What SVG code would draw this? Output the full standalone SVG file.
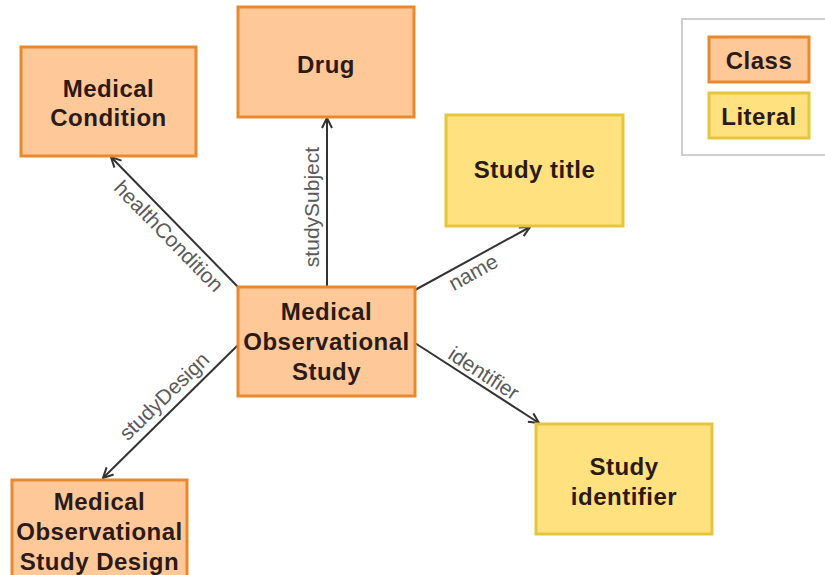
<svg xmlns="http://www.w3.org/2000/svg" width="825" height="575" viewBox="0 0 825 575">
<defs>
<style>
.cls{fill:#FFC899;stroke:#E8892E;stroke-width:3}
.lit{fill:#FFE27F;stroke:#E5C63A;stroke-width:3}
.nt{font-family:"Liberation Sans",Arial,sans-serif;font-weight:bold;font-size:24px;letter-spacing:0.5px;fill:#2b1a16;text-anchor:middle}
.edge{stroke:#333;stroke-width:2;fill:none;marker-end:url(#arr)}
.el{font-family:"Liberation Sans",Arial,sans-serif;font-size:21px;fill:#5a5a5a;text-anchor:middle;dominant-baseline:central}
</style>
<marker id="arr" viewBox="0 0 12 12" refX="11" refY="6" markerWidth="12" markerHeight="12" markerUnits="userSpaceOnUse" orient="auto">
<path d="M1,1 L11,6 L1,11" fill="none" stroke="#333" stroke-width="2"/>
</marker>
</defs>
<rect width="825" height="575" fill="#fff"/>
<g id="connectors">
<line class="edge" x1="238" y1="287" x2="111" y2="157"/>
<line class="edge" x1="327" y1="287" x2="327" y2="118"/>
<line class="edge" x1="415" y1="290" x2="530" y2="227"/>
<line class="edge" x1="415" y1="343" x2="539" y2="423"/>
<line class="edge" x1="238" y1="345" x2="103" y2="478"/>
<text class="el" transform="translate(169,236) rotate(45.66)">healthCondition</text>
<text class="el" transform="translate(311,207) rotate(-90)">studySubject</text>
<text class="el" transform="translate(473,272) rotate(-28.9)">name</text>
<text class="el" transform="translate(484,373) rotate(33)">identifier</text>
<text class="el" transform="translate(164,396) rotate(-44.1)">studyDesign</text>
</g>
<g id="medical-condition">
<rect class="cls" x="21" y="47" width="175" height="109"/>
<text class="nt" x="108.5" y="97">Medical</text>
<text class="nt" x="108.5" y="126">Condition</text>
</g>
<g id="drug">
<rect class="cls" x="238" y="7" width="176" height="110"/>
<text class="nt" x="326" y="73">Drug</text>
</g>
<g id="medical-observational-study">
<rect class="cls" x="238" y="287" width="177" height="109"/>
<text class="nt" x="326.5" y="320">Medical</text>
<text class="nt" x="326.5" y="350">Observational</text>
<text class="nt" x="326.5" y="380">Study</text>
</g>
<g id="study-title">
<rect class="lit" x="446" y="115" width="177" height="111"/>
<text class="nt" x="534.5" y="178">Study title</text>
</g>
<g id="study-identifier">
<rect class="lit" x="536" y="424" width="176" height="110"/>
<text class="nt" x="624" y="475">Study</text>
<text class="nt" x="624" y="505">identifier</text>
</g>
<g id="medical-observational-study-design">
<rect class="cls" x="12" y="480" width="175" height="110"/>
<text class="nt" x="99.5" y="510">Medical</text>
<text class="nt" x="99.5" y="540">Observational</text>
<text class="nt" x="99.5" y="570">Study Design</text>
</g>
<g id="legend">
<rect x="682" y="19" width="160" height="136" fill="#fff" stroke="#cfcfcf" stroke-width="2"/>
<rect class="cls" x="709" y="37" width="100" height="45"/>
<text class="nt" x="759" y="69">Class</text>
<rect class="lit" x="709" y="93" width="100" height="45"/>
<text class="nt" x="759" y="125">Literal</text>
</g>
</svg>
